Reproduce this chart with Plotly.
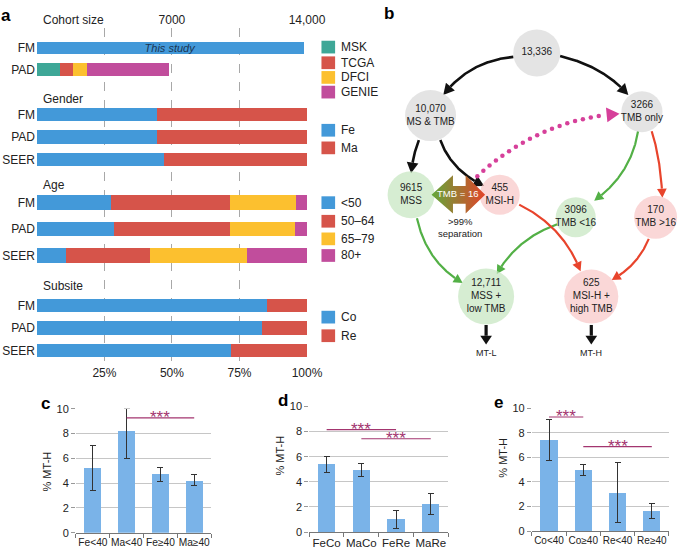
import numpy as np
import plotly.graph_objects as go

W, H = 696, 556
def px(x): return x / W
def py(y): return 1 - y / H

FONT = "Liberation Sans, Arial, Helvetica, sans-serif"
TXT = "#222222"

# ------------------------------------------------------------------ data
cohort_sources = ["MSK", "TCGA", "DFCI", "GENIE"]
cohort_pad = [1205, 670, 737, 4250]
cohort_fm = 13840
cohort_groups = ["FM", "PAD"]

gender_cats = ["Fe", "Ma"]
groups3 = ["FM", "PAD", "SEER"]
gender_fe = [44.6, 44.6, 47.1]
gender_ma = [55.4, 55.4, 52.9]

age_cats = ["<50", "50–64", "65–79", "80+"]
age_fm = [27.6, 43.8, 24.7, 3.9]
age_pad = [28.4, 43.0, 24.2, 4.4]
age_seer = [10.8, 31.0, 36.1, 22.1]

subsite_cats = ["Co", "Re"]
subsite_co = [85.1, 83.5, 71.8]
subsite_re = [14.9, 16.5, 28.2]

c_cats = ["Fe<40", "Ma<40", "Fe≥40", "Ma≥40"]
c_vals = [5.2, 8.2, 4.7, 4.2]
c_lo = [3.4, 5.95, 4.1, 3.8]
c_hi = [7.0, 10.0, 5.3, 4.7]

d_cats = ["FeCo", "MaCo", "FeRe", "MaRe"]
d_vals = [5.4, 4.96, 1.01, 2.23]
d_lo = [4.78, 4.42, 0.31, 1.40]
d_hi = [6.0, 5.48, 1.71, 3.04]

e_cats = ["Co<40", "Co≥40", "Re<40", "Re≥40"]
e_vals = [7.4, 4.93, 3.13, 1.64]
e_lo = [5.78, 4.5, 0.69, 1.06]
e_hi = [9.07, 5.38, 5.57, 2.25]

flow_counts = [13336, 10070, 3266, 9615, 455, 3096, 170, 12711, 625]
flow_labels = ["", "MS & TMB", "TMB only", "MSS", "MSI-H", "TMB <16",
               "TMB >16", "MSS +<br>low TMB", "MSI-H +<br>high TMB"]
flow_outputs = ["MT-L", "MT-H"]
tmb_cut = 16
separation = ">99%"

# ------------------------------------------------------------------ styles
BLUE, RED, YEL, MAG, TEAL = "#4399d9", "#d6544a", "#fcc02f", "#c14d9c", "#3ea797"
SRC_COL = [TEAL, RED, YEL, MAG]
AGE_COL = [BLUE, RED, YEL, MAG]
BAR_BLUE = "#7ab3e8"
SIG = "#a3356f"

fig = go.Figure()

# ------------------------------------------------------------------ panel a
XR = [-0.3, 100.3]
COH_MAX = 14000
X2R = [v * COH_MAX / 100 for v in XR]
rows_cohort = [43, 65]
rows_gender = [111, 134, 157]
rows_age = [201, 228, 255]
rows_sub = [306, 329, 352]

common = dict(orientation="h", hoverinfo="skip", showlegend=False,
              marker_line_width=0, constraintext="none")

fig.add_trace(go.Bar(x=[cohort_fm], y=[rows_cohort[0]], xaxis="x2", yaxis="y",
                     width=13, marker_color=BLUE, text=["This study"],
                     textposition="inside", insidetextanchor="middle",
                     textfont=dict(color="#1b3552", size=11, style="italic"), **common))
for name, val, col in zip(cohort_sources, cohort_pad, SRC_COL):
    fig.add_trace(go.Bar(x=[val], y=[rows_cohort[1]], xaxis="x2", yaxis="y",
                         width=13, marker_color=col, name=name, **common))

for name, vals, col in zip(gender_cats, [gender_fe, gender_ma], [BLUE, RED]):
    fig.add_trace(go.Bar(x=vals, y=rows_gender, xaxis="x", yaxis="y", width=14,
                         marker_color=col, name=name, **common))

age_by_cat = list(zip(age_fm, age_pad, age_seer))
for name, vals, col in zip(age_cats, age_by_cat, AGE_COL):
    fig.add_trace(go.Bar(x=list(vals), y=rows_age, xaxis="x", yaxis="y", width=15,
                         marker_color=col, name=name, **common))

for name, vals, col in zip(subsite_cats, [subsite_co, subsite_re], [BLUE, RED]):
    fig.add_trace(go.Bar(x=vals, y=rows_sub, xaxis="x", yaxis="y", width=14,
                         marker_color=col, name=name, **common))

annotations = []
shapes = []

def ann(x, y, text, size=12, xanchor="center", yanchor="middle", **kw):
    d = dict(x=px(x), y=py(y), xref="paper", yref="paper", text=text, showarrow=False,
             xanchor=xanchor, yanchor=yanchor, font=dict(size=size, color=kw.pop("color", TXT)))
    d.update(kw)
    annotations.append(d)

ann(42, 14, "Cohort size", xanchor="left")
ann(42, 95, "Gender", xanchor="left")
ann(42, 183, "Age", xanchor="left")
ann(42, 286, "Subsite", xanchor="left")

def legend(names, cols, ys):
    for n, c, y in zip(names, cols, ys):
        shapes.append(dict(type="rect", xref="paper", yref="paper", x0=px(330), x1=px(344),
                           y0=py(y + 6.5), y1=py(y - 6.5), fillcolor=c, line_width=0))
        ann(348, y, n, xanchor="left")

legend(cohort_sources, SRC_COL, [42, 58, 73, 88])
legend(gender_cats, [BLUE, RED], [127, 145])
legend(age_cats, AGE_COL, [201, 220, 238, 255])
legend(subsite_cats, [BLUE, RED], [318, 337])

# ------------------------------------------------------------------ panel b (flow diagram)
def q(p0, c, p1, n=40):
    t = np.linspace(0, 1, n)[:, None]
    p0, c, p1 = map(np.array, (p0, c, p1))
    return (1 - t) ** 2 * p0 + 2 * t * (1 - t) * c + t ** 2 * p1

def arrow(p0, c, p1, color, width, hl, hw, dotted=False):
    pts = q(p0, c, p1, 200)
    tip = pts[-1]
    d = np.hypot(*(pts - tip).T)
    k = np.argmax(d[::-1] >= hl)
    base = pts[len(pts) - 1 - k]
    body = pts[: len(pts) - k]
    if dotted:
        seg = np.hypot(*np.diff(body, axis=0).T)
        s = np.concatenate([[0], np.cumsum(seg)])
        sd = np.arange(0, s[-1] - 3, 8.3)
        xs = np.interp(sd, s, body[:, 0]); ys = np.interp(sd, s, body[:, 1])
        fig.add_trace(go.Scatter(x=xs, y=ys, mode="markers", xaxis="x3", yaxis="y3",
                                 marker=dict(size=4.5, color=color), hoverinfo="skip",
                                 showlegend=False, cliponaxis=False))
    else:
        fig.add_trace(go.Scatter(x=body[:, 0], y=body[:, 1], mode="lines", xaxis="x3",
                                 yaxis="y3", line=dict(color=color, width=width),
                                 hoverinfo="skip", showlegend=False, cliponaxis=False))
    dvec = tip - base
    dvec = dvec / np.hypot(*dvec)
    nvec = np.array([-dvec[1], dvec[0]])
    tri = np.array([tip, base + nvec * hw, base - nvec * hw, tip])
    fig.add_trace(go.Scatter(x=tri[:, 0], y=tri[:, 1], mode="lines", fill="toself",
                             fillcolor=color, line=dict(width=0, color=color), xaxis="x3",
                             yaxis="y3", hoverinfo="skip", showlegend=False, cliponaxis=False))

K, G, R, PINK = "#111111", "#53b046", "#e8442c", "#d6409a"
edge_geom = [
    ((527, 52), (482, 56), (455, 91), K),
    ((575, 51), (620, 62), (645, 91), K),
    ((430, 137), (424, 152), (422, 171), K),
    ((452, 137), (463, 168), (497, 184), K),
    ((655, 128), (648, 172), (610, 199), G),
    ((669, 128), (678, 155), (680, 196), R),
    ((428, 217), (438, 262), (475, 283), G),
    ((572, 223), (530, 238), (510, 274), G),
    ((533, 203), (578, 225), (596, 271), R),
    ((666, 238), (655, 265), (628, 280), R),
]
for p0, c, p1, col in edge_geom:
    if col == K:
        arrow(p0, c, p1, col, 2.6, 11, 6)
    else:
        arrow(p0, c, p1, col, 2.2, 9, 5)

arrow((490, 174), (553, 116), (636, 110), PINK, 3, 13, 7.5, dotted=True)

for xo in [499, 607]:
    arrow((xo, 326), (xo, 333), (xo, 346), K, 3.2, 9, 6)

node_pos = [(551, 48), (442, 112), (659, 108), (422, 193), (513, 193),
            (591, 216), (673, 216), (499, 297), (607, 297)]
node_dia = [47, 51, 41, 47, 40, 40, 43, 56, 54]
GREY, LG, LP = "#d9d9d9", "#c4e5bf", "#f8c6c6"
node_col = [GREY, GREY, GREY, LG, LP, LG, LP, LG, LP]

def fmt(n):
    return f"{n:,}" if n >= 10000 else str(n)

node_text = [fmt(n) + ("<br>" + l if l else "") for n, l in zip(flow_counts, flow_labels)]
fig.add_trace(go.Scatter(x=[p[0] for p in node_pos], y=[p[1] for p in node_pos],
                         mode="markers+text", text=node_text, textposition="middle center",
                         textfont=dict(size=10, color=TXT), xaxis="x3", yaxis="y3",
                         marker=dict(size=node_dia, color=node_col, line_width=0),
                         hoverinfo="skip", showlegend=False, cliponaxis=False))

dx = [443, 465, 465, 478, 478, 498, 478, 478, 465, 465, 443]
dy = [193, 173, 184, 184, 173, 193, 212, 202, 202, 212, 193]
fig.add_trace(go.Scatter(x=dx, y=dy, mode="lines", fill="toself",
                         fillgradient=dict(type="horizontal",
                                           colorscale=[[0, "#62a83a"], [1, "#e2432a"]]),
                         line=dict(width=0), xaxis="x3", yaxis="y3",
                         hoverinfo="skip", showlegend=False, cliponaxis=False))

ann(470, 192, f"TMB = {tmb_cut}", size=9.5, color="white")
ann(472, 226, f"{separation}<br>separation", size=9.5)
ann(499, 355, flow_outputs[0], size=9)
ann(607, 355, flow_outputs[1], size=9)

# ------------------------------------------------------------------ panels c, d, e
panels = [
    (4, c_cats, c_vals, c_lo, c_hi, [((1, 3), 9.27)], (78, 216.7), (411.7, 538.3), 10.2),
    (5, d_cats, d_vals, d_lo, d_hi, [((0, 2), 8.16), ((1, 3), 7.43)], (317.5, 460), (409.3, 537.7), 11.5),
    (6, e_cats, e_vals, e_lo, e_hi, [((0, 1), 9.28), ((1, 3), 6.87)], (546, 686.7), (411, 536.7), 10),
]
layout_axes = {}
for idx, cats, vals, lo, hi, sigs, (x0, x1), (y0, y1), fs in panels:
    fig.add_trace(go.Bar(x=cats, y=vals, width=0.5, marker_color=BAR_BLUE, marker_line_width=0,
                         xaxis=f"x{idx}", yaxis=f"y{idx}", hoverinfo="skip", showlegend=False,
                         error_y=dict(type="data", symmetric=False,
                                      array=[h - v for h, v in zip(hi, vals)],
                                      arrayminus=[v - l for v, l in zip(vals, lo)],
                                      color="#333333", thickness=1, width=3)))
    layout_axes[f"xaxis{idx}"] = dict(domain=[px(x0), px(x1)], anchor=f"y{idx}", type="category",
                                      range=[-0.5, 3.5], tickson="boundaries", ticks="outside",
                                      ticklen=4, tickcolor="#777777", showline=True,
                                      linecolor="#777777", linewidth=1, showgrid=False,
                                      tickangle=0, automargin=False,
                                      tickfont=dict(size=fs, color=TXT))
    layout_axes[f"yaxis{idx}"] = dict(domain=[py(y1), py(y0)], anchor=f"x{idx}", range=[0, 10],
                                      tickvals=[0, 2, 4, 6, 8, 10], showgrid=True,
                                      gridcolor="#c6c6c6", zeroline=False, showline=False,
                                      ticks="outside", ticklen=4, tickcolor="#999999",
                                      tickfont=dict(size=11, color=TXT))
    for (a, b), h in sigs:
        shapes.append(dict(type="line", xref=f"x{idx}", yref=f"y{idx}", x0=a, x1=b, y0=h, y1=h,
                           line=dict(color=SIG, width=1.2)))
        annotations.append(dict(x=(a + b) / 2, y=h, xref=f"x{idx}", yref=f"y{idx}", text="***",
                                showarrow=False, yanchor="middle", yshift=0,
                                font=dict(size=17, color=SIG)))

ann(48, 476, "% MT-H", size=11, textangle=-90)
ann(288, 460, "% MT-H", size=11, textangle=-90)
ann(516, 462, "% MT-H", size=11, textangle=-90)

for letter, (x, y) in zip("abcde", [(6, 10), (399, 8), (47, 406), (290, 403), (512, 405)]):
    ann(x, y, f"<b>{letter}</b>", size=17, color="#000000")

fig.update_layout(
    width=W, height=H, margin=dict(l=0, r=0, t=0, b=0),
    paper_bgcolor="white", plot_bgcolor="white", barmode="stack", showlegend=False,
    font=dict(family=FONT, color=TXT),
    xaxis=dict(domain=[px(37), px(316)], range=XR, anchor="y",
               tickvals=[0, 25, 50, 75, 100], ticktext=["", "25%", "50%", "75%", "100%"],
               showgrid=True, griddash="dash", gridcolor="#a8a8a8", gridwidth=1,
               zeroline=False, showline=False, ticks="", tickfont=dict(size=12, color=TXT)),
    xaxis2=dict(overlaying="x", side="top", range=X2R, anchor="y",
                tickvals=[7000, 14000], ticktext=["7000", "14,000"], showgrid=False,
                zeroline=False, showline=False, ticks="", tickfont=dict(size=12, color=TXT)),
    yaxis=dict(domain=[py(366), py(22)], range=[366, 22], anchor="x",
               tickvals=rows_cohort + rows_gender + rows_age + rows_sub,
               ticktext=cohort_groups + groups3 * 3, showgrid=False, zeroline=False,
               showline=False, ticks="", tickfont=dict(size=12, color=TXT)),
    xaxis3=dict(domain=[px(360), 1], range=[360, 696], visible=False, anchor="y3"),
    yaxis3=dict(domain=[py(372), 1], range=[372, 0], visible=False, anchor="x3"),
    annotations=annotations, shapes=shapes,
    **layout_axes,
)

page_fix = (
    "document.documentElement.style.margin='0';"
    "document.documentElement.style.padding='0';"
    "document.documentElement.style.overflow='hidden';"
    "document.body.style.margin='0';document.body.style.padding='0';"
    "document.body.style.overflow='hidden';"
    "var gd=document.getElementById('{plot_id}');"
    "if(gd){gd.style.position='fixed';gd.style.left='0px';gd.style.top='0px';}"
)
fig.write_html("out.html", config={"displayModeBar": False}, post_script=page_fix)
